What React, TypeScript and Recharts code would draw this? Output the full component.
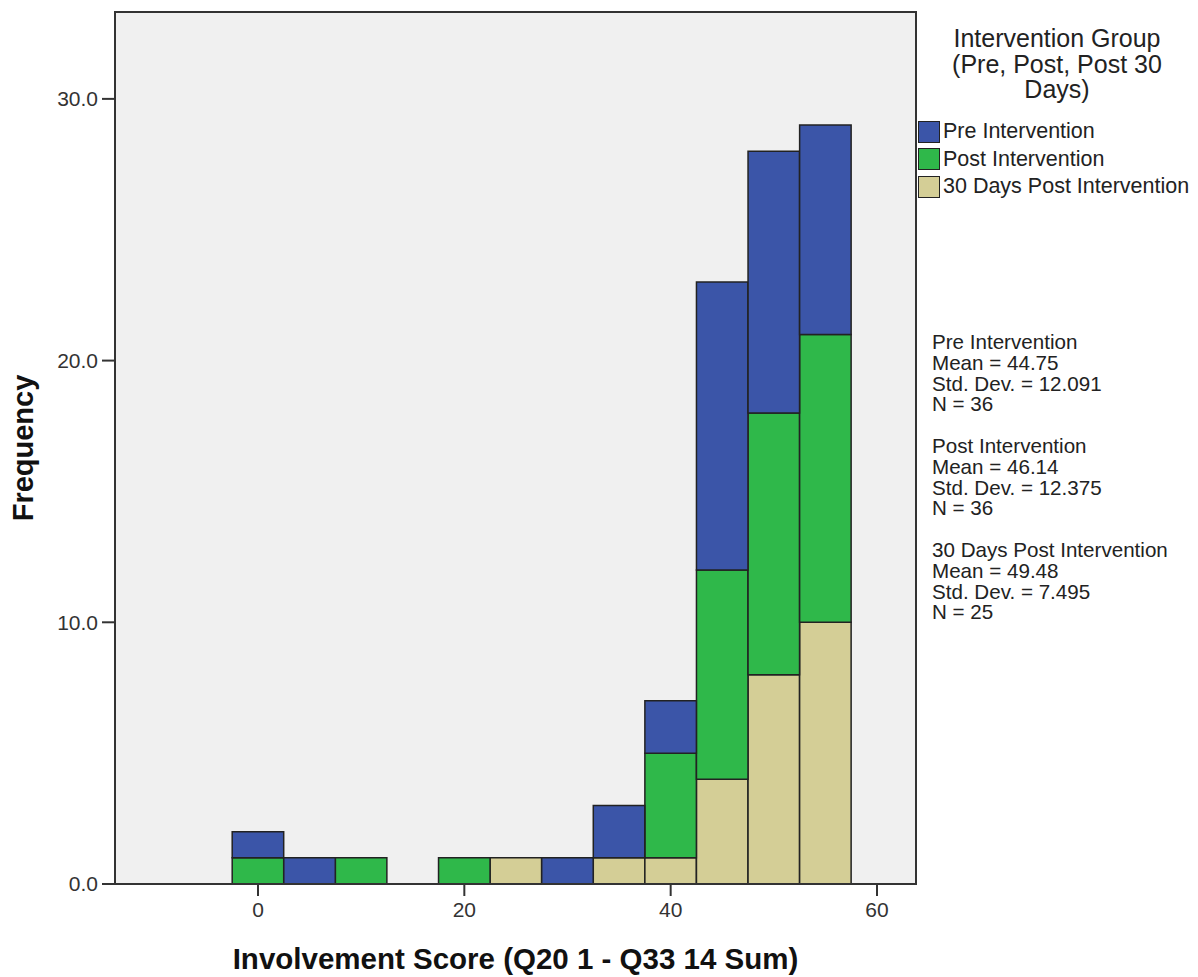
import {
    ComposedChart,
    Bar,
    XAxis,
    YAxis,
    CartesianGrid,
    ReferenceArea,
    Label,
} from 'recharts'

// histogram bins (bin width 5, centres)
const binCenters = [0, 5, 10, 15, 20, 25, 30, 35, 40, 45, 50, 55]
const preCounts = [1, 1, 0, 0, 0, 0, 1, 2, 2, 11, 10, 8]
const postCounts = [1, 0, 1, 0, 1, 0, 0, 0, 4, 8, 10, 11]
const days30Counts = [0, 0, 0, 0, 0, 1, 0, 1, 1, 4, 8, 10]

const xTicks = [0, 20, 40, 60]
const yTicks = [0, 10, 20, 30]

const groupNames = ['Pre Intervention', 'Post Intervention', '30 Days Post Intervention']
const groupMeans = ['44.75', '46.14', '49.48']
const groupStdDevs = ['12.091', '12.375', '7.495']
const groupNs = ['36', '36', '25']

const legendTitle = ['Intervention Group', '(Pre, Post, Post 30', 'Days)']

const colors = ['#3b55a8', '#2fb84a', '#d4ce96']
const FONT = '"Liberation Sans", Arial, sans-serif'
const X_MIN = -13.86
const X_MAX = 63.78
const Y_MAX = 33.32

const data = binCenters.map((score, i) => ({
    score,
    pre: preCounts[i],
    post: postCounts[i],
    days30: days30Counts[i],
}))

function LegendBox() {
    return (
        <div style={{ fontFamily: FONT, color: '#222' }}>
            <div
                style={{
                    position: 'absolute',
                    left: 941,
                    top: 26,
                    width: 232,
                    textAlign: 'center',
                    fontSize: 25,
                    lineHeight: '25.5px',
                }}
            >
                {legendTitle.map((t) => (
                    <div key={t}>{t}</div>
                ))}
            </div>
            {groupNames.map((name, i) => (
                <div
                    key={name}
                    style={{
                        position: 'absolute',
                        left: 918,
                        top: 119 + i * 27.5,
                        display: 'flex',
                        alignItems: 'center',
                        fontSize: 21.5,
                        whiteSpace: 'nowrap',
                    }}
                >
                    <span
                        style={{
                            display: 'inline-block',
                            width: 20,
                            height: 20,
                            background: colors[i],
                            border: '1.5px solid #222',
                            marginRight: 3,
                        }}
                    />
                    {name}
                </div>
            ))}
        </div>
    )
}

function StatsBox() {
    return (
        <div
            style={{
                position: 'absolute',
                left: 932,
                top: 332,
                fontFamily: FONT,
                fontSize: 20.6,
                lineHeight: '20.8px',
                color: '#222',
                whiteSpace: 'nowrap',
            }}
        >
            {groupNames.map((name, i) => (
                <div key={name} style={{ marginBottom: 20.8 }}>
                    <div>{name}</div>
                    <div>Mean = {groupMeans[i]}</div>
                    <div>Std. Dev. = {groupStdDevs[i]}</div>
                    <div>N = {groupNs[i]}</div>
                </div>
            ))}
        </div>
    )
}

export default function App() {
    return (
        <div style={{ position: 'relative', width: 1198, height: 977, background: '#fff' }}>
            <style>{`body{margin:0}`}</style>
            <ComposedChart
                width={1198}
                height={977}
                data={data}
                margin={{ top: 12, right: 282, bottom: 0, left: 0 }}
            >
                <CartesianGrid fill="#f0f0f0" horizontal={false} vertical={false} />
                <XAxis
                    dataKey="score"
                    type="number"
                    domain={[X_MIN, X_MAX]}
                    allowDataOverflow
                    ticks={xTicks}
                    height={93}
                    tickSize={12}
                    tickMargin={6}
                    stroke="#333"
                    strokeWidth={2}
                    tick={{ fontSize: 21, fill: '#333', fontFamily: FONT }}
                >
                    <Label
                        content={({ viewBox }: any) => (
                            <text
                                x={viewBox.x + viewBox.width / 2}
                                y={viewBox.y + 85}
                                textAnchor="middle"
                                fontFamily={FONT}
                                fontWeight="bold"
                                fontSize={29.5}
                                fill="#111"
                            >
                                Involvement Score (Q20 1 - Q33 14 Sum)
                            </text>
                        )}
                    />
                </XAxis>
                <YAxis
                    type="number"
                    domain={[0, Y_MAX]}
                    allowDataOverflow
                    ticks={yTicks}
                    width={115}
                    tickSize={13}
                    tickMargin={4}
                    stroke="#333"
                    strokeWidth={2}
                    tickFormatter={(v: number) => v.toFixed(1)}
                    tick={{ fontSize: 21, fill: '#333', fontFamily: FONT }}
                >
                    <Label
                        content={({ viewBox }: any) => {
                            const cy = viewBox.y + viewBox.height / 2
                            return (
                                <text
                                    x={33}
                                    y={cy}
                                    transform={`rotate(-90 33 ${cy})`}
                                    textAnchor="middle"
                                    fontFamily={FONT}
                                    fontWeight="bold"
                                    fontSize={29}
                                    fill="#111"
                                >
                                    Frequency
                                </text>
                            )
                        }}
                    />
                </YAxis>
                <Bar dataKey="days30" stackId="g" fill={colors[2]} stroke="#222" strokeWidth={1.5} barSize={51.5} isAnimationActive={false} />
                <Bar dataKey="post" stackId="g" fill={colors[1]} stroke="#222" strokeWidth={1.5} barSize={51.5} isAnimationActive={false} />
                <Bar dataKey="pre" stackId="g" fill={colors[0]} stroke="#222" strokeWidth={1.5} barSize={51.5} isAnimationActive={false} />
                <ReferenceArea
                    x1={X_MIN}
                    x2={X_MAX}
                    y1={0}
                    y2={Y_MAX}
                    fill="none"
                    stroke="#333"
                    strokeWidth={2}
                />
            </ComposedChart>
            <LegendBox />
            <StatsBox />
        </div>
    )
}
